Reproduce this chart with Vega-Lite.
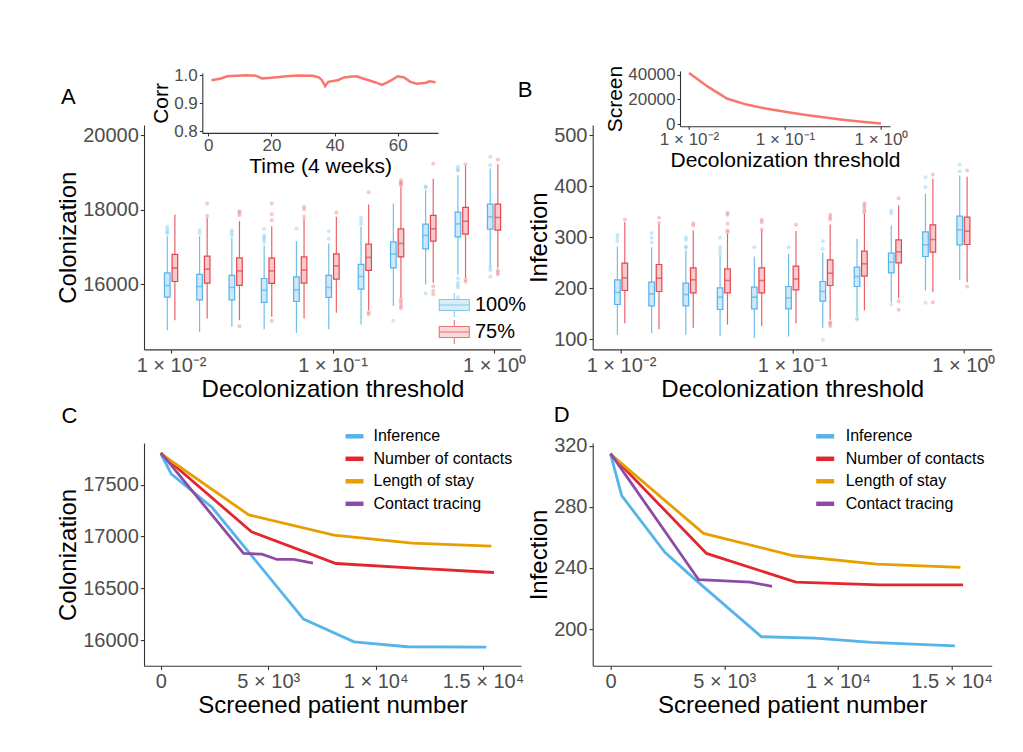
{
  "$schema": "https://vega.github.io/schema/vega-lite/v6.json",
  "background": "white",
  "padding": {"left": 56, "top": 65, "right": 10, "bottom": 10},
  "bounds": "flush",
  "columns": 2,
  "spacing": {"row": 93.1, "column": 71.7},
  "datasets": {
    "boxA": [
      {"t":0.01,"g":"100%","lo":14775,"q1":15660,"m":15973,"q3":16311,"hi":17294},
      {"t":0.01,"g":"75%","lo":15043,"q1":16080,"m":16437,"q3":16804,"hi":17876},
      {"t":0.015849,"g":"100%","lo":14730,"q1":15587,"m":15946,"q3":16268,"hi":17294},
      {"t":0.015849,"g":"75%","lo":15089,"q1":16035,"m":16410,"q3":16758,"hi":17790},
      {"t":0.025119,"g":"100%","lo":14864,"q1":15587,"m":15920,"q3":16241,"hi":17260},
      {"t":0.025119,"g":"75%","lo":15043,"q1":15973,"m":16364,"q3":16713,"hi":17696},
      {"t":0.039811,"g":"100%","lo":14802,"q1":15518,"m":15847,"q3":16160,"hi":17053},
      {"t":0.039811,"g":"75%","lo":15132,"q1":16027,"m":16364,"q3":16705,"hi":17562},
      {"t":0.063096,"g":"100%","lo":14703,"q1":15544,"m":15855,"q3":16204,"hi":17160},
      {"t":0.063096,"g":"75%","lo":15089,"q1":16035,"m":16383,"q3":16740,"hi":17769},
      {"t":0.1,"g":"100%","lo":14802,"q1":15652,"m":15920,"q3":16241,"hi":17099},
      {"t":0.1,"g":"75%","lo":15239,"q1":16142,"m":16498,"q3":16820,"hi":17812},
      {"t":0.158489,"g":"100%","lo":14928,"q1":15874,"m":16214,"q3":16536,"hi":17544},
      {"t":0.158489,"g":"75%","lo":15311,"q1":16375,"m":16724,"q3":17080,"hi":18144},
      {"t":0.251189,"g":"100%","lo":15426,"q1":16445,"m":16812,"q3":17142,"hi":18171},
      {"t":0.251189,"g":"75%","lo":15652,"q1":16740,"m":17099,"q3":17490,"hi":18616},
      {"t":0.398107,"g":"100%","lo":16008,"q1":16954,"m":17313,"q3":17616,"hi":18527},
      {"t":0.398107,"g":"75%","lo":16043,"q1":17160,"m":17490,"q3":17849,"hi":18831},
      {"t":0.630957,"g":"100%","lo":16268,"q1":17276,"m":17624,"q3":17938,"hi":18929},
      {"t":0.630957,"g":"75%","lo":16177,"q1":17348,"m":17696,"q3":18064,"hi":19179},
      {"t":1,"g":"100%","lo":16472,"q1":17481,"m":17812,"q3":18152,"hi":19109},
      {"t":1,"g":"75%","lo":16445,"q1":17455,"m":17795,"q3":18152,"hi":19224}
    ],
    "outA": [
      {"t":0.01,"g":"100%","v":17544},{"t":0.01,"g":"100%","v":17474},{"t":0.01,"g":"100%","v":17410},{"t":0.01,"g":"100%","v":17367},
      {"t":0.015849,"g":"100%","v":17455},{"t":0.015849,"g":"100%","v":17367},{"t":0.015849,"g":"75%","v":18171},{"t":0.015849,"g":"75%","v":17840},
      {"t":0.025119,"g":"100%","v":17455},{"t":0.025119,"g":"100%","v":17383},{"t":0.025119,"g":"100%","v":17321},{"t":0.025119,"g":"75%","v":17964},{"t":0.025119,"g":"75%","v":17919},{"t":0.025119,"g":"75%","v":17857},{"t":0.025119,"g":"75%","v":14882},
      {"t":0.039811,"g":"100%","v":17490},{"t":0.039811,"g":"100%","v":17321},{"t":0.039811,"g":"100%","v":17260},{"t":0.039811,"g":"100%","v":17206},{"t":0.039811,"g":"100%","v":17134},{"t":0.039811,"g":"75%","v":18171},{"t":0.039811,"g":"75%","v":17884},{"t":0.039811,"g":"75%","v":17723},{"t":0.039811,"g":"75%","v":15025},
      {"t":0.063096,"g":"100%","v":17500},{"t":0.063096,"g":"75%","v":18080},{"t":0.063096,"g":"75%","v":18018},{"t":0.063096,"g":"75%","v":17822},
      {"t":0.1,"g":"100%","v":17428},{"t":0.1,"g":"100%","v":17222},{"t":0.1,"g":"75%","v":17929},
      {"t":0.158489,"g":"100%","v":17785},{"t":0.158489,"g":"100%","v":17696},{"t":0.158489,"g":"100%","v":17616},{"t":0.158489,"g":"75%","v":18474},{"t":0.158489,"g":"75%","v":15258},{"t":0.158489,"g":"75%","v":15204},
      {"t":0.251189,"g":"100%","v":15025},{"t":0.251189,"g":"75%","v":18790},{"t":0.251189,"g":"75%","v":18740},{"t":0.251189,"g":"75%","v":18700},{"t":0.251189,"g":"75%","v":18660},{"t":0.251189,"g":"75%","v":15614},{"t":0.251189,"g":"75%","v":15552},{"t":0.251189,"g":"75%","v":15480},{"t":0.251189,"g":"75%","v":15418},{"t":0.251189,"g":"75%","v":15357},
      {"t":0.398107,"g":"100%","v":18634},{"t":0.398107,"g":"100%","v":18600},{"t":0.398107,"g":"100%","v":15759},{"t":0.398107,"g":"75%","v":19243},{"t":0.398107,"g":"75%","v":15954},{"t":0.398107,"g":"75%","v":15829},{"t":0.398107,"g":"75%","v":15740},
      {"t":0.630957,"g":"100%","v":19152},{"t":0.630957,"g":"100%","v":19090},{"t":0.630957,"g":"100%","v":19044},{"t":0.630957,"g":"100%","v":16161},{"t":0.630957,"g":"100%","v":16043},{"t":0.630957,"g":"100%","v":15981},{"t":0.630957,"g":"100%","v":15920},{"t":0.630957,"g":"100%","v":15660},{"t":0.630957,"g":"75%","v":19224},{"t":0.630957,"g":"75%","v":16134},{"t":0.630957,"g":"75%","v":16070},
      {"t":1,"g":"100%","v":19420},{"t":1,"g":"100%","v":19197},{"t":1,"g":"100%","v":16455},{"t":1,"g":"100%","v":16383},{"t":1,"g":"100%","v":16204},{"t":1,"g":"75%","v":19349},{"t":1,"g":"75%","v":16383},{"t":1,"g":"75%","v":16322},{"t":1,"g":"75%","v":16268}
    ],
    "boxB": [
      {"t":0.01,"g":"100%","lo":108.6,"q1":168.0,"m":191.6,"q3":216.5,"hi":281.8},
      {"t":0.01,"g":"75%","lo":131.4,"q1":195.5,"m":220.4,"q3":249.0,"hi":329.4},
      {"t":0.015849,"g":"100%","lo":111.8,"q1":165.5,"m":189.0,"q3":211.8,"hi":280.4},
      {"t":0.015849,"g":"75%","lo":119.6,"q1":193.5,"m":219.6,"q3":246.5,"hi":324.9},
      {"t":0.025119,"g":"100%","lo":108.6,"q1":165.5,"m":187.6,"q3":209.8,"hi":273.9},
      {"t":0.025119,"g":"75%","lo":122.3,"q1":191.0,"m":216.5,"q3":240.0,"hi":313.2},
      {"t":0.039811,"g":"100%","lo":105.9,"q1":158.2,"m":182.4,"q3":200.8,"hi":264.1},
      {"t":0.039811,"g":"75%","lo":128.8,"q1":191.0,"m":215.1,"q3":238.0,"hi":306.7},
      {"t":0.063096,"g":"100%","lo":102.0,"q1":159.6,"m":182.4,"q3":202.0,"hi":262.2},
      {"t":0.063096,"g":"75%","lo":125.5,"q1":191.0,"m":215.1,"q3":240.0,"hi":313.2},
      {"t":0.1,"g":"100%","lo":105.3,"q1":159.6,"m":181.2,"q3":203.3,"hi":267.4},
      {"t":0.1,"g":"75%","lo":131.4,"q1":196.9,"m":218.0,"q3":243.1,"hi":312.0},
      {"t":0.158489,"g":"100%","lo":122.3,"q1":174.5,"m":193.5,"q3":213.1,"hi":270.6},
      {"t":0.158489,"g":"75%","lo":138.0,"q1":205.3,"m":229.4,"q3":255.7,"hi":324.9},
      {"t":0.251189,"g":"100%","lo":145.1,"q1":203.3,"m":222.9,"q3":241.2,"hi":296.9},
      {"t":0.251189,"g":"75%","lo":156.3,"q1":223.5,"m":247.8,"q3":272.6,"hi":345.9},
      {"t":0.398107,"g":"100%","lo":172.5,"q1":230.2,"m":251.0,"q3":268.6,"hi":323.0},
      {"t":0.398107,"g":"75%","lo":180.4,"q1":249.8,"m":271.4,"q3":294.9,"hi":362.2},
      {"t":0.630957,"g":"100%","lo":195.5,"q1":262.2,"m":285.1,"q3":310.6,"hi":385.1},
      {"t":0.630957,"g":"75%","lo":192.2,"q1":270.6,"m":295.5,"q3":324.3,"hi":414.5},
      {"t":1,"g":"100%","lo":216.5,"q1":285.1,"m":314.5,"q3":341.2,"hi":421.0},
      {"t":1,"g":"75%","lo":211.8,"q1":285.7,"m":311.8,"q3":339.2,"hi":418.7}
    ],
    "outB": [
      {"t":0.01,"g":"100%","v":304.7},{"t":0.01,"g":"100%","v":298.8},{"t":0.01,"g":"100%","v":292.2},{"t":0.01,"g":"75%","v":334.7},
      {"t":0.015849,"g":"100%","v":307.9},{"t":0.015849,"g":"100%","v":298.8},{"t":0.015849,"g":"100%","v":289.6},{"t":0.015849,"g":"75%","v":338},{"t":0.015849,"g":"75%","v":328},
      {"t":0.025119,"g":"100%","v":300},{"t":0.025119,"g":"100%","v":294.9},{"t":0.025119,"g":"100%","v":281.8},{"t":0.025119,"g":"100%","v":279.2},{"t":0.025119,"g":"75%","v":327.5},{"t":0.025119,"g":"75%","v":323},
      {"t":0.039811,"g":"100%","v":298.8},{"t":0.039811,"g":"100%","v":280.4},{"t":0.039811,"g":"100%","v":273.9},{"t":0.039811,"g":"100%","v":267.5},{"t":0.039811,"g":"75%","v":347.9},{"t":0.039811,"g":"75%","v":344},{"t":0.039811,"g":"75%","v":326.3},{"t":0.039811,"g":"75%","v":313.2},{"t":0.039811,"g":"75%","v":309.8},
      {"t":0.063096,"g":"100%","v":280.4},{"t":0.063096,"g":"75%","v":334.1},{"t":0.063096,"g":"75%","v":329.4},{"t":0.063096,"g":"75%","v":315.1},
      {"t":0.1,"g":"100%","v":280.4},{"t":0.1,"g":"75%","v":324.6},
      {"t":0.158489,"g":"100%","v":292.2},{"t":0.158489,"g":"100%","v":277.3},{"t":0.158489,"g":"100%","v":98.8},{"t":0.158489,"g":"75%","v":344},{"t":0.158489,"g":"75%","v":339.2},{"t":0.158489,"g":"75%","v":334.7},{"t":0.158489,"g":"75%","v":133.3},{"t":0.158489,"g":"75%","v":130.2},{"t":0.158489,"g":"75%","v":125.5},
      {"t":0.251189,"g":"100%","v":141.2},{"t":0.251189,"g":"100%","v":138},{"t":0.251189,"g":"75%","v":366.7},{"t":0.251189,"g":"75%","v":362.2},{"t":0.251189,"g":"75%","v":357.6},{"t":0.251189,"g":"75%","v":352.4},{"t":0.251189,"g":"75%","v":348.5},
      {"t":0.398107,"g":"100%","v":352.4},{"t":0.398107,"g":"100%","v":347.1},{"t":0.398107,"g":"100%","v":168},{"t":0.398107,"g":"75%","v":376.5},{"t":0.398107,"g":"75%","v":174.5},{"t":0.398107,"g":"75%","v":157.6},
      {"t":0.630957,"g":"100%","v":417.7},{"t":0.630957,"g":"100%","v":398},{"t":0.630957,"g":"100%","v":171.4},{"t":0.630957,"g":"75%","v":423},{"t":0.630957,"g":"75%","v":172.5},
      {"t":1,"g":"100%","v":442.6},{"t":1,"g":"100%","v":429.5},{"t":1,"g":"75%","v":430.8},{"t":1,"g":"75%","v":203.3}
    ],
    "corr": [
      {"time":1,"corr":0.982},{"time":4,"corr":0.988},{"time":6,"corr":0.996},{"time":12,"corr":1.0},{"time":15,"corr":0.998},{"time":17,"corr":0.988},{"time":20,"corr":0.991},{"time":24,"corr":0.995},{"time":28,"corr":0.999},{"time":33,"corr":0.998},{"time":35,"corr":0.992},{"time":36,"corr":0.982},{"time":37,"corr":0.961},{"time":38,"corr":0.976},{"time":41,"corr":0.982},{"time":43,"corr":0.992},{"time":45,"corr":0.994},{"time":47,"corr":0.996},{"time":49,"corr":0.988},{"time":53,"corr":0.974},{"time":55,"corr":0.965},{"time":57,"corr":0.976},{"time":58,"corr":0.982},{"time":60,"corr":0.996},{"time":62,"corr":0.992},{"time":64,"corr":0.976},{"time":66,"corr":0.969},{"time":69,"corr":0.973},{"time":70,"corr":0.978},{"time":72,"corr":0.975}
    ],
    "screen": [
      {"t":0.01,"s":41300},{"t":0.015849,"s":30000},{"t":0.025119,"s":20500},{"t":0.039811,"s":15800},{"t":0.063096,"s":12600},{"t":0.1,"s":10000},{"t":0.158489,"s":7700},{"t":0.251189,"s":5600},{"t":0.398107,"s":3600},{"t":0.630957,"s":1900},{"t":1,"s":500}
    ],
    "lc": [
      {"method":"Inference","x":0,"y":17800},{"method":"Inference","x":490,"y":17603},{"method":"Inference","x":2390,"y":17281},{"method":"Inference","x":6640,"y":16203},{"method":"Inference","x":8990,"y":15984},{"method":"Inference","x":11480,"y":15936},{"method":"Inference","x":15150,"y":15932},
      {"method":"Number of contacts","x":0,"y":17800},{"method":"Number of contacts","x":4220,"y":17046},{"method":"Number of contacts","x":8150,"y":16740},{"method":"Number of contacts","x":11800,"y":16695},{"method":"Number of contacts","x":15505,"y":16653},
      {"method":"Length of stay","x":0,"y":17800},{"method":"Length of stay","x":4090,"y":17210},{"method":"Length of stay","x":8057,"y":17014},{"method":"Length of stay","x":11700,"y":16937},{"method":"Length of stay","x":15390,"y":16908},
      {"method":"Contact tracing","x":0,"y":17810},{"method":"Contact tracing","x":3851,"y":16837},{"method":"Contact tracing","x":4705,"y":16830},{"method":"Contact tracing","x":5404,"y":16779},{"method":"Contact tracing","x":6180,"y":16779},{"method":"Contact tracing","x":7081,"y":16744}
    ],
    "ld": [
      {"method":"Inference","x":0,"y":314.5},{"method":"Inference","x":490,"y":287.3},{"method":"Inference","x":2390,"y":250.2},{"method":"Inference","x":3700,"y":232.7},{"method":"Inference","x":6640,"y":195},{"method":"Inference","x":8990,"y":194.1},{"method":"Inference","x":11480,"y":191.3},{"method":"Inference","x":15150,"y":189.1},
      {"method":"Number of contacts","x":0,"y":314.5},{"method":"Number of contacts","x":4220,"y":249.5},{"method":"Number of contacts","x":8150,"y":230.8},{"method":"Number of contacts","x":11800,"y":229},{"method":"Number of contacts","x":15505,"y":229},
      {"method":"Length of stay","x":0,"y":314.5},{"method":"Length of stay","x":4090,"y":262.6},{"method":"Length of stay","x":8057,"y":248},{"method":"Length of stay","x":11700,"y":242.5},{"method":"Length of stay","x":15390,"y":240.4},
      {"method":"Contact tracing","x":0,"y":315},{"method":"Contact tracing","x":3875,"y":232.3},{"method":"Contact tracing","x":6149,"y":230.8},{"method":"Contact tracing","x":7103,"y":227.9}
    ]
  },
  "concat": [
    {
      "width": 377,
      "height": 224.4,
      "title": {"text": "A", "anchor": "start", "frame": "group", "dx": -83, "dy": 43, "fontSize": 22, "fontWeight": "normal", "color": "black", "offset": 0},
      "layer": [
        {
          "encoding": {
            "x": {"field": "t", "type": "quantitative", "scale": {"type": "log", "domain": [0.0073, 1.368], "nice": false}, "axis": {"values": [0.01, 0.1, 1], "labelExpr": "datum.value < 0.05 ? '1 × 10⁻²' : (datum.value < 0.5 ? '1 × 10⁻¹' : '1 × 10⁰')", "title": "Decolonization threshold"}}
          },
          "layer": [
            {"data": {"name": "boxA"}, "transform": [{"filter": "datum.g == '100%'"}], "mark": {"type": "rule", "xOffset": -3.8, "strokeWidth": 1.2, "opacity": 0.85},
             "encoding": {"y": {"field": "lo", "type": "quantitative", "scale": {"domain": [14260, 20273], "nice": false, "zero": false}, "axis": {"values": [16000, 18000, 20000], "format": "d"}, "title": "Colonization"}, "y2": {"field": "hi"},
               "color": {"field": "g", "type": "nominal", "scale": {"range": ["#56B4E9", "#E3474E"]}, "legend": null}}},
            {"data": {"name": "boxA"}, "transform": [{"filter": "datum.g == '75%'"}], "mark": {"type": "rule", "xOffset": 3.8, "strokeWidth": 1.2, "opacity": 0.85},
             "encoding": {"y": {"field": "lo", "type": "quantitative", "title": "Colonization"}, "y2": {"field": "hi"},
               "color": {"field": "g", "type": "nominal", "legend": null}}},
            {"data": {"name": "boxA"}, "transform": [{"filter": "datum.g == '100%'"}], "mark": {"type": "bar", "size": 5.6, "xOffset": -3.8, "strokeWidth": 1.2},
             "encoding": {"y": {"field": "q1", "type": "quantitative", "title": "Colonization"}, "y2": {"field": "q3"},
               "fill": {"field": "g", "type": "nominal", "scale": {"domain": ["100%", "75%"], "range": ["#CDE8F8", "#F7CBCD"]}, "legend": {"title": null, "orient": "none", "legendX": 299.3, "legendY": 169, "symbolType": "M-1.5,-0.55L1.5,-0.55L1.5,0.55L-1.5,0.55Z M-1.5,0L1.5,0 M0,-0.55L0,-1.2 M0,0.55L0,1.2", "symbolSize": 400, "symbolStrokeWidth": 1.1, "symbolOpacity": 0.75, "labelFontSize": 20, "labelOffset": 9.7, "rowPadding": -3, "padding": 0, "labelColor": "black"}},
               "stroke": {"field": "g", "type": "nominal", "scale": {"domain": ["100%", "75%"], "range": ["#56B4E9", "#E3474E"]}, "legend": {"title": null, "orient": "none", "legendX": 299.3, "legendY": 169, "symbolType": "M-1.5,-0.55L1.5,-0.55L1.5,0.55L-1.5,0.55Z M-1.5,0L1.5,0 M0,-0.55L0,-1.2 M0,0.55L0,1.2", "symbolSize": 400, "symbolStrokeWidth": 1.1, "symbolOpacity": 0.75, "labelFontSize": 20, "labelOffset": 9.7, "rowPadding": -3, "padding": 0, "labelColor": "black"}}}},
            {"data": {"name": "boxA"}, "transform": [{"filter": "datum.g == '75%'"}], "mark": {"type": "bar", "size": 5.6, "xOffset": 3.8, "strokeWidth": 1.2},
             "encoding": {"y": {"field": "q1", "type": "quantitative", "title": "Colonization"}, "y2": {"field": "q3"},
               "fill": {"field": "g", "type": "nominal"},
               "stroke": {"field": "g", "type": "nominal"}}},
            {"data": {"name": "boxA"}, "transform": [{"filter": "datum.g == '100%'"}], "mark": {"type": "tick", "orient": "horizontal", "size": 5.6, "thickness": 1.6, "xOffset": -3.8},
             "encoding": {"y": {"field": "m", "type": "quantitative", "title": "Colonization"}, "color": {"field": "g", "type": "nominal", "legend": null}}},
            {"data": {"name": "boxA"}, "transform": [{"filter": "datum.g == '75%'"}], "mark": {"type": "tick", "orient": "horizontal", "size": 5.6, "thickness": 1.6, "xOffset": 3.8},
             "encoding": {"y": {"field": "m", "type": "quantitative", "title": "Colonization"}, "color": {"field": "g", "type": "nominal", "legend": null}}},
            {"data": {"name": "outA"}, "transform": [{"filter": "datum.g == '100%'"}], "mark": {"type": "circle", "size": 16, "opacity": 0.3, "xOffset": -3.8},
             "encoding": {"y": {"field": "v", "type": "quantitative", "title": "Colonization"}, "color": {"field": "g", "type": "nominal", "legend": null}}},
            {"data": {"name": "outA"}, "transform": [{"filter": "datum.g == '75%'"}], "mark": {"type": "circle", "size": 16, "opacity": 0.3, "xOffset": 3.8},
             "encoding": {"y": {"field": "v", "type": "quantitative", "title": "Colonization"}, "color": {"field": "g", "type": "nominal", "legend": null}}}
          ]
        },
        {
          "data": {"name": "corr"},
          "mark": {"type": "line", "color": "#F8766D", "strokeWidth": 2.5},
          "encoding": {
            "x": {"field": "time", "type": "quantitative", "scale": {"domain": [-1.9, 72.75], "range": [58.3, 294], "nice": false, "zero": false}, "axis": {"orient": "bottom", "offset": -216.5, "values": [0, 20, 40, 60], "title": "Time (4 weeks)", "labelFontSize": 17, "titleFontSize": 21, "tickSize": 3}},
            "y": {"field": "corr", "type": "quantitative", "scale": {"domain": [0.794, 1.008], "range": [7.9, -52.1], "nice": false, "zero": false}, "axis": {"orient": "left", "offset": -58.3, "values": [0.8, 0.9, 1.0], "format": ".1f", "title": "Corr", "labelFontSize": 17, "titleFontSize": 21, "tickSize": 3}}
          }
        }
      ],
      "resolve": {"scale": {"x": "independent", "y": "independent"}, "axis": {"x": "independent", "y": "independent"}}
    },
    {
      "width": 399,
      "height": 224.4,
      "title": {"text": "B", "anchor": "start", "frame": "group", "dx": -75, "dy": 37, "fontSize": 22, "fontWeight": "normal", "color": "black", "offset": 0},
      "layer": [
        {
          "encoding": {
            "x": {"field": "t", "type": "quantitative", "scale": {"type": "log", "domain": [0.0073, 1.368], "nice": false}, "axis": {"values": [0.01, 0.1, 1], "labelExpr": "datum.value < 0.05 ? '1 × 10⁻²' : (datum.value < 0.5 ? '1 × 10⁻¹' : '1 × 10⁰')", "title": "Decolonization threshold"}}
          },
          "layer": [
            {"data": {"name": "boxB"}, "transform": [{"filter": "datum.g == '100%'"}], "mark": {"type": "rule", "xOffset": -3.7, "strokeWidth": 1.2, "opacity": 0.85},
             "encoding": {"y": {"field": "lo", "type": "quantitative", "scale": {"domain": [80, 520], "nice": false, "zero": false}, "axis": {"values": [100, 200, 300, 400, 500], "format": "d"}, "title": "Infection"}, "y2": {"field": "hi"},
               "color": {"field": "g", "type": "nominal", "scale": {"range": ["#56B4E9", "#E3474E"]}, "legend": null}}},
            {"data": {"name": "boxB"}, "transform": [{"filter": "datum.g == '75%'"}], "mark": {"type": "rule", "xOffset": 3.7, "strokeWidth": 1.2, "opacity": 0.85},
             "encoding": {"y": {"field": "lo", "type": "quantitative", "title": "Infection"}, "y2": {"field": "hi"},
               "color": {"field": "g", "type": "nominal", "legend": null}}},
            {"data": {"name": "boxB"}, "transform": [{"filter": "datum.g == '100%'"}], "mark": {"type": "bar", "size": 5.6, "xOffset": -3.7, "strokeWidth": 1.2},
             "encoding": {"y": {"field": "q1", "type": "quantitative", "title": "Infection"}, "y2": {"field": "q3"},
               "fill": {"field": "g", "type": "nominal", "scale": {"domain": ["100%", "75%"], "range": ["#CDE8F8", "#F7CBCD"]}, "legend": null},
               "stroke": {"field": "g", "type": "nominal", "scale": {"domain": ["100%", "75%"], "range": ["#56B4E9", "#E3474E"]}, "legend": null}}},
            {"data": {"name": "boxB"}, "transform": [{"filter": "datum.g == '75%'"}], "mark": {"type": "bar", "size": 5.6, "xOffset": 3.7, "strokeWidth": 1.2},
             "encoding": {"y": {"field": "q1", "type": "quantitative", "title": "Infection"}, "y2": {"field": "q3"},
               "fill": {"field": "g", "type": "nominal", "legend": null},
               "stroke": {"field": "g", "type": "nominal", "legend": null}}},
            {"data": {"name": "boxB"}, "transform": [{"filter": "datum.g == '100%'"}], "mark": {"type": "tick", "orient": "horizontal", "size": 5.6, "thickness": 1.6, "xOffset": -3.7},
             "encoding": {"y": {"field": "m", "type": "quantitative", "title": "Infection"}, "color": {"field": "g", "type": "nominal", "legend": null}}},
            {"data": {"name": "boxB"}, "transform": [{"filter": "datum.g == '75%'"}], "mark": {"type": "tick", "orient": "horizontal", "size": 5.6, "thickness": 1.6, "xOffset": 3.7},
             "encoding": {"y": {"field": "m", "type": "quantitative", "title": "Infection"}, "color": {"field": "g", "type": "nominal", "legend": null}}},
            {"data": {"name": "outB"}, "transform": [{"filter": "datum.g == '100%'"}], "mark": {"type": "circle", "size": 16, "opacity": 0.3, "xOffset": -3.7},
             "encoding": {"y": {"field": "v", "type": "quantitative", "title": "Infection"}, "color": {"field": "g", "type": "nominal", "legend": null}}},
            {"data": {"name": "outB"}, "transform": [{"filter": "datum.g == '75%'"}], "mark": {"type": "circle", "size": 16, "opacity": 0.3, "xOffset": 3.7},
             "encoding": {"y": {"field": "v", "type": "quantitative", "title": "Infection"}, "color": {"field": "g", "type": "nominal", "legend": null}}}
          ]
        },
        {
          "data": {"name": "screen"},
          "mark": {"type": "line", "color": "#F8766D", "strokeWidth": 2.5},
          "encoding": {
            "x": {"field": "t", "type": "quantitative", "scale": {"type": "log", "domain": [0.00805, 1.2417], "range": [87.3, 297.3], "nice": false}, "axis": {"orient": "bottom", "offset": -223.2, "values": [0.01, 0.1, 1], "labelExpr": "datum.value < 0.05 ? '1 × 10⁻²' : (datum.value < 0.5 ? '1 × 10⁻¹' : '1 × 10⁰')", "title": "Decolonization threshold", "labelFontSize": 17, "titleFontSize": 21, "tickSize": 3}},
            "y": {"field": "s", "type": "quantitative", "scale": {"domain": [-1600, 42900], "range": [1.2, -54.1], "nice": false, "zero": false}, "axis": {"orient": "left", "offset": -87.3, "values": [0, 20000, 40000], "format": "d", "title": "Screen", "labelFontSize": 17, "titleFontSize": 21, "tickSize": 3}}
          }
        }
      ],
      "resolve": {"scale": {"x": "independent", "y": "independent"}, "axis": {"x": "independent", "y": "independent"}}
    },
    {
      "width": 377,
      "height": 222.7,
      "title": {"text": "C", "anchor": "start", "frame": "group", "dx": -82.5, "dy": 3, "fontSize": 22, "fontWeight": "normal", "color": "black", "offset": 0},
      "data": {"name": "lc"},
      "mark": {"type": "line", "strokeWidth": 2.8},
      "encoding": {
        "x": {"field": "x", "type": "quantitative", "scale": {"domain": [-785, 16765], "nice": false, "zero": false}, "axis": {"values": [0, 5000, 10000, 15000], "labelExpr": "datum.value == 0 ? '0' : (datum.value == 5000 ? '5 × 10³' : (datum.value == 10000 ? '1 × 10⁴' : '1.5 × 10⁴'))", "title": "Screened patient number"}},
        "y": {"field": "y", "type": "quantitative", "scale": {"domain": [15752, 17903], "nice": false, "zero": false}, "axis": {"values": [16000, 16500, 17000, 17500], "format": "d", "title": "Colonization"}},
        "color": {"field": "method", "type": "nominal", "scale": {"domain": ["Inference", "Number of contacts", "Length of stay", "Contact tracing"], "range": ["#56B4E9", "#E3262E", "#E69F00", "#8E4BA6"]}, "legend": {"title": null, "orient": "none", "legendX": 199, "legendY": -18.3, "symbolType": "stroke", "symbolSize": 324, "symbolStrokeWidth": 4.5, "labelFontSize": 16, "labelOffset": 7.5, "rowPadding": 1.5, "padding": 0, "labelColor": "black"}}
      }
    },
    {
      "width": 399,
      "height": 222.7,
      "title": {"text": "D", "anchor": "start", "frame": "group", "dx": -39, "dy": 2.5, "fontSize": 22, "fontWeight": "normal", "color": "black", "offset": 0},
      "data": {"name": "ld"},
      "mark": {"type": "line", "strokeWidth": 2.8},
      "encoding": {
        "x": {"field": "x", "type": "quantitative", "scale": {"domain": [-785, 16765], "nice": false, "zero": false}, "axis": {"values": [0, 5000, 10000, 15000], "labelExpr": "datum.value == 0 ? '0' : (datum.value == 5000 ? '5 × 10³' : (datum.value == 10000 ? '1 × 10⁴' : '1.5 × 10⁴'))", "title": "Screened patient number"}},
        "y": {"field": "y", "type": "quantitative", "scale": {"domain": [176, 321.7], "nice": false, "zero": false}, "axis": {"values": [200, 240, 280, 320], "format": "d", "title": "Infection"}},
        "color": {"field": "method", "type": "nominal", "scale": {"domain": ["Inference", "Number of contacts", "Length of stay", "Contact tracing"], "range": ["#56B4E9", "#E3262E", "#E69F00", "#8E4BA6"]}, "legend": {"title": null, "orient": "none", "legendX": 221, "legendY": -18.3, "symbolType": "stroke", "symbolSize": 324, "symbolStrokeWidth": 4.5, "labelFontSize": 16, "labelOffset": 9, "rowPadding": 1.5, "padding": 0, "labelColor": "black"}}
      }
    }
  ],
  "resolve": {
    "scale": {"x": "independent", "y": "independent", "color": "independent", "fill": "independent", "stroke": "independent"},
    "axis": {"x": "independent", "y": "independent"},
    "legend": {"color": "independent", "fill": "independent", "stroke": "independent"}
  },
  "config": {
    "font": "Liberation Sans",
    "view": {"stroke": null},
    "axis": {"grid": false, "domainColor": "#333333", "domainWidth": 1.1, "tickColor": "#333333", "tickSize": 3.7, "tickWidth": 1.1, "labelColor": "#4D4D4D", "labelFontSize": 20, "titleFontSize": 24, "titleFontWeight": "normal", "titleColor": "black", "labelPadding": 2, "titlePadding": 2, "labelFont": "Liberation Sans", "titleFont": "Liberation Sans"},
    "legend": {"labelFont": "Liberation Sans", "labelColor": "black"},
    "title": {"font": "Liberation Sans"}
  }
}
